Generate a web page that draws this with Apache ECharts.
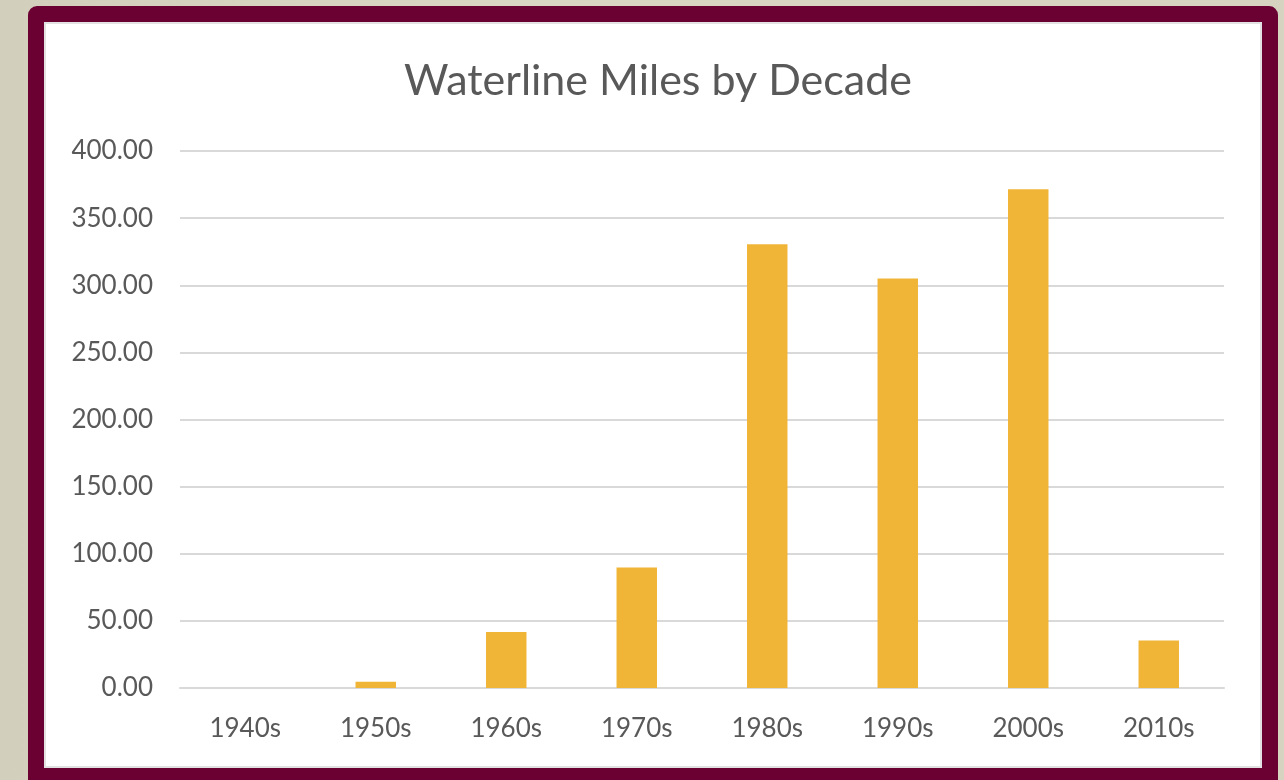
<!DOCTYPE html>
<html>
<head>
<meta charset="utf-8">
<script src="https://cdn.jsdelivr.net/npm/echarts@6/dist/echarts.min.js"></script>
<style>
  html, body { margin: 0; padding: 0; width: 1284px; height: 780px; overflow: hidden; }
  body { background: linear-gradient(90deg, #d3cfbd 0%, #d9d7c4 40%, #d6d4c0 100%); position: relative; }
  #frame {
    position: absolute; left: 28px; top: 6px; width: 1250px; height: 790px;
    background: #6b0033; border-radius: 9px;
  }
  #paper {
    position: absolute; left: 44px; top: 22px; width: 1218px; height: 746px;
    background: #fff; box-shadow: inset 0 0 0 2px #e2e2e2;
  }
  #chart { position: absolute; left: 0; top: 0; width: 1284px; height: 780px; }
</style>
</head>
<body>
<div id="frame"></div>
<div id="paper"></div>
<div id="chart"></div>
<script>
  // values
  const decades = ['1940s', '1950s', '1960s', '1970s', '1980s', '1990s', '2000s', '2010s'];
  const miles = [0, 4.7, 41.7, 89.8, 330.6, 305.0, 371.6, 35.4];
  const yTicks = { min: 0, max: 400, step: 50 };

  const chart = echarts.init(document.getElementById('chart'), undefined, { renderer: 'canvas' });

  chart.setOption({
    animation: false,
    backgroundColor: 'transparent',
    title: {
      text: 'Waterline Miles by Decade',
      left: 653, top: 55, textAlign: 'center',
      textStyle: { fontFamily: 'Lato', fontSize: 43, fontWeight: 'normal', color: '#595959' }
    },
    grid: { left: 180, right: 60, top: 151, bottom: 92, containLabel: false },
    xAxis: {
      type: 'category',
      data: decades,
      axisLine: { show: true, lineStyle: { color: '#d9d9d9', width: 2 } },
      axisTick: { show: false },
      axisLabel: { color: '#595959', fontFamily: 'Lato', fontSize: 26, margin: 28 }
    },
    yAxis: {
      type: 'value',
      min: yTicks.min, max: yTicks.max, interval: yTicks.step,
      axisLine: { show: false },
      axisTick: { show: false },
      splitLine: { lineStyle: { color: '#d9d9d9', width: 2 } },
      axisLabel: {
        color: '#595959', fontFamily: 'Lato', fontSize: 26, margin: 27,
        formatter: v => v.toFixed(2)
      }
    },
    series: [{
      type: 'bar',
      data: miles,
      barWidth: '31%',
      itemStyle: { color: '#f0b437' }
    }]
  });
</script>
</body>
</html>
